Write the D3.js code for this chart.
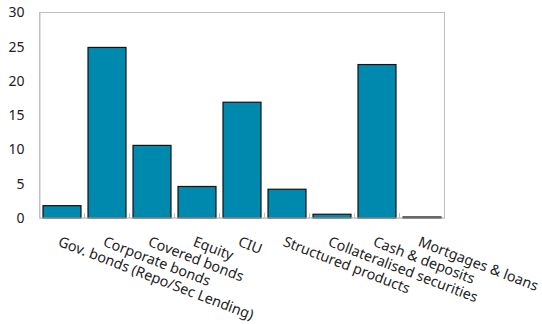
<!DOCTYPE html>
<html><head><meta charset="utf-8">
<script src="https://cdn.jsdelivr.net/npm/d3@7"></script>
<style>body{margin:0;background:#fff} svg{display:block}</style>
</head><body><svg id="chart" width="542" height="324"></svg>
<script>
// Holdings by asset class
const categories = [
  "Gov. bonds (Repo/Sec Lending)",
  "Corporate bonds",
  "Covered bonds",
  "Equity",
  "CIU",
  "Structured products",
  "Collateralised securities",
  "Cash & deposits",
  "Mortgages & loans"
];
const values = [1.8, 24.9, 10.6, 4.6, 16.9, 4.2, 0.55, 22.4, 0.15];
const yTicks = [0, 5, 10, 15, 20, 25, 30];

const plot = { left: 39.5, right: 444.5, top: 12.5, bottom: 218 };
const font = "'Noto Sans', 'Open Sans', sans-serif";
const frameColor = "#c0c0c0";
const barColor = "#0089ae";

const svg = d3.select("#chart");

const x = d3.scaleBand()
  .domain(categories)
  .range([plot.left, plot.right])
  .paddingInner(0.156)
  .paddingOuter(0.078);

const y = d3.scaleLinear()
  .domain([0, 30])
  .range([plot.bottom, plot.top]);

// plot frame
svg.append("rect")
  .attr("x", plot.left).attr("y", plot.top)
  .attr("width", plot.right - plot.left)
  .attr("height", plot.bottom - plot.top)
  .attr("fill", "none")
  .attr("stroke", frameColor)
  .attr("stroke-width", 1);

// y axis
const yAxis = svg.append("g")
  .attr("transform", `translate(${plot.left},0)`)
  .call(d3.axisLeft(y).tickValues(yTicks).tickSize(0).tickPadding(15));
yAxis.select(".domain").attr("stroke", frameColor);
yAxis.selectAll("text")
  .attr("font-family", font)
  .attr("font-size", 14)
  .attr("fill", "#222");

// category boundary ticks on the baseline
const step = x.step();
const bounds = d3.range(categories.length + 1).map(i => plot.left + i * step);
svg.append("g").selectAll("line")
  .data(bounds)
  .join("line")
  .attr("x1", d => d).attr("x2", d => d)
  .attr("y1", plot.bottom).attr("y2", plot.bottom - 5)
  .attr("stroke", frameColor)
  .attr("stroke-width", 1);

// bars
svg.append("g").selectAll("rect")
  .data(categories)
  .join("rect")
  .attr("x", d => x(d))
  .attr("width", x.bandwidth())
  .attr("y", (d, i) => y(values[i]))
  .attr("height", (d, i) => y(0) - y(values[i]))
  .attr("fill", barColor)
  .attr("stroke", "#111")
  .attr("stroke-width", 1.2);

// baseline
svg.append("line")
  .attr("x1", plot.left).attr("x2", plot.right)
  .attr("y1", plot.bottom).attr("y2", plot.bottom)
  .attr("stroke", frameColor)
  .attr("stroke-width", 1);

// rotated category labels
svg.append("g").selectAll("text")
  .data(categories)
  .join("text")
  .attr("transform", d => `translate(${x(d) + x.bandwidth() / 2 - 1},235.5) rotate(21)`)
  .attr("dy", "0.75em")
  .attr("font-family", font)
  .attr("font-size", 14.3)
  .attr("fill", "#222")
  .text(d => d);
</script>
</body></html>
